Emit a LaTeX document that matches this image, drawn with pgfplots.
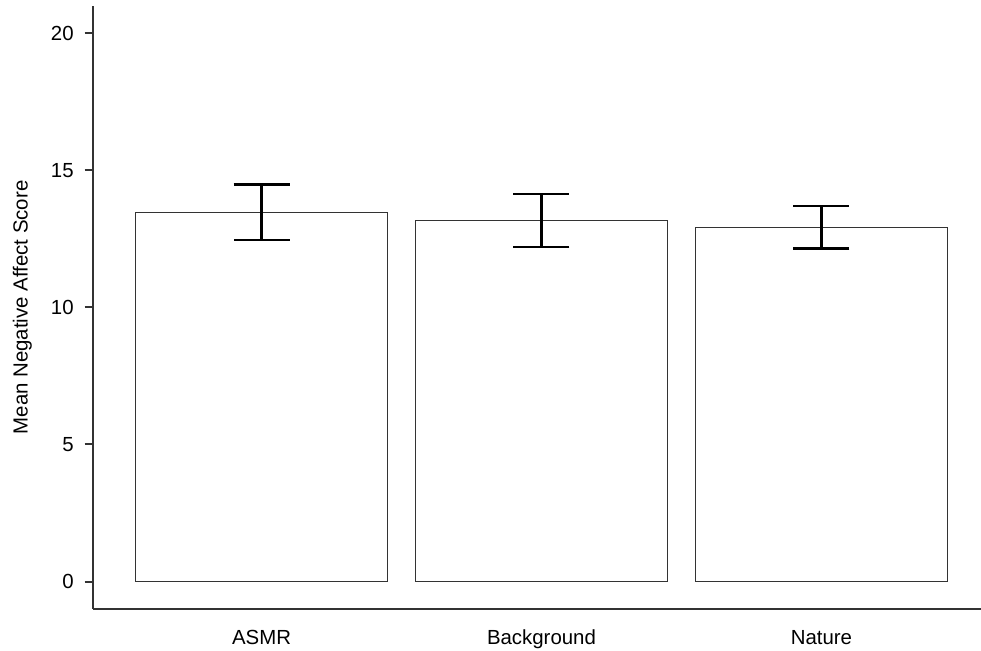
\documentclass[border=0pt]{standalone}
\usepackage{fontspec}
\setmainfont{Liberation Sans}
\usepackage{pgfplots}
\pgfplotsset{compat=1.18}
\begin{document}
\begin{tikzpicture}
\useasboundingbox (0,0) rectangle (490.5pt,325.5pt);
\begin{axis}[
  at={(46.35pt,21pt)}, anchor=south west,
  scale only axis, width=444.15pt, height=301.65pt,
  xmin=-0.603, xmax=2.57, ymin=-1, ymax=21,
  axis lines=left,
  axis line style={draw=black!80, line width=1pt, -},
  ytick={0,5,10,15,20},
  xtick={0,1,2}, xticklabels={ASMR,Background,Nature},
  tick align=outside, major tick length=4pt,
  ytick style={draw=black!80, line width=1pt},
  xtick style={draw=none},
  yticklabel style={xshift=-2pt},
  xticklabel style={yshift=-3pt},
  /pgf/number format/assume math mode=true,
  font=\fontsize{10.2}{12}\selectfont,
  ylabel={Mean Negative Affect Score},
  ylabel style={at={([xshift=-32.6pt]axis description cs:0,0.5)}, anchor=base},
  ybar, bar width=0.9,
]
\addplot[draw=black!80, line width=0.6pt, fill=white,
  error bars/.cd, y dir=both, y explicit,
  error bar style={line width=1.2pt, black},
  error mark options={rotate=90, line width=1.2pt, black, mark size=14pt}]
  coordinates {(0,13.47) +- (0,1.01) (1,13.17) +- (0,0.97) (2,12.92) +- (0,0.77)};
\end{axis}
\end{tikzpicture}
\end{document}
